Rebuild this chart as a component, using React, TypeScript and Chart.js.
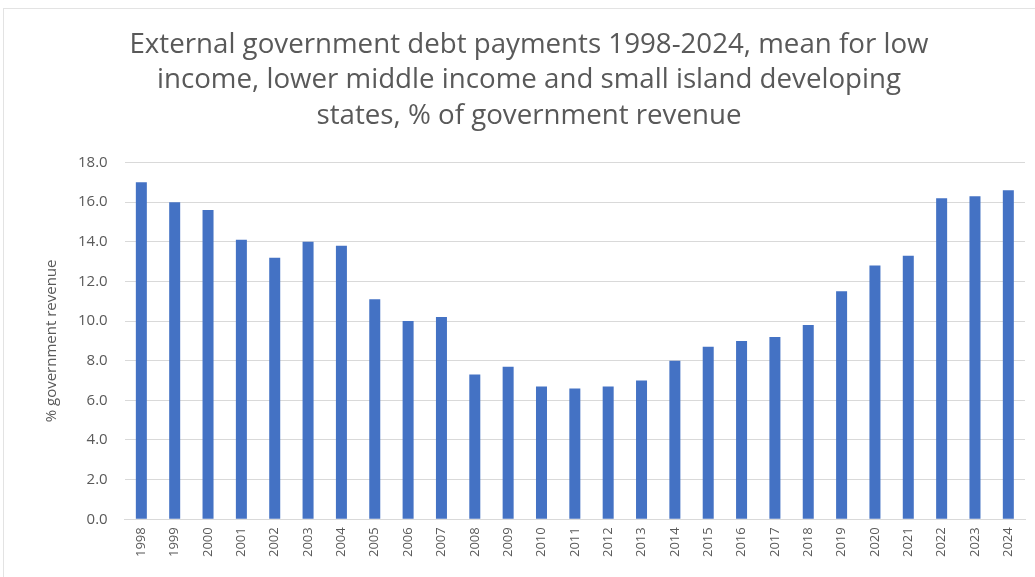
import React, { useEffect, useRef } from "react";
import { Chart, registerables } from "chart.js";

Chart.register(...registerables);

const years: string[] = [
  "1998", "1999", "2000", "2001", "2002", "2003", "2004", "2005", "2006",
  "2007", "2008", "2009", "2010", "2011", "2012", "2013", "2014", "2015",
  "2016", "2017", "2018", "2019", "2020", "2021", "2022", "2023", "2024",
];

const debtPayments: number[] = [
  17.0, 16.0, 15.6, 14.1, 13.2, 14.0, 13.8, 11.1, 10.0,
  10.2, 7.3, 7.7, 6.7, 6.6, 6.7, 7.0, 8.0, 8.7,
  9.0, 9.2, 9.8, 11.5, 12.8, 13.3, 16.2, 16.3, 16.6,
];

const titleLines: string[] = [
  "External government debt payments 1998-2024, mean for low",
  "income, lower middle income and small island developing",
  "states, % of government revenue",
];

const yAxisTitle = "% government revenue";

const FONT = "'Open Sans', sans-serif";
const TEXT = "#595959";
const GRID = "#d9d9d9";
const BAR = "#4472c4";

export default function App() {
  const ref = useRef<HTMLCanvasElement | null>(null);

  useEffect(() => {
    if (!ref.current) return;
    const chart = new Chart(ref.current, {
      type: "bar",
      data: {
        labels: years,
        datasets: [
          {
            label: "Debt payments",
            data: debtPayments,
            backgroundColor: BAR,
            borderWidth: 0,
            barPercentage: 0.33,
            categoryPercentage: 1.0,
          },
        ],
      },
      options: {
        animation: false,
        responsive: true,
        maintainAspectRatio: false,
        layout: { padding: { left: 33, right: 10, top: 0, bottom: 12 } },
        plugins: {
          legend: { display: false },
          tooltip: { enabled: false },
          title: {
            display: true,
            text: titleLines,
            color: TEXT,
            font: { family: FONT, size: 27.7, weight: "normal", lineHeight: "35.5px" },
            padding: { top: 27, bottom: 29 },
          },
        },
        scales: {
          x: {
            grid: { display: false, drawTicks: false },
            border: { display: true, color: GRID, width: 1 },
            ticks: {
              color: TEXT,
              font: { family: FONT, size: 13 },
              minRotation: 90,
              maxRotation: 90,
              padding: 8,
              autoSkip: false,
            },
          },
          y: {
            min: 0,
            max: 18,
            grid: { color: GRID, lineWidth: 1, drawTicks: false },
            border: { display: false },
            ticks: {
              stepSize: 2,
              color: TEXT,
              font: { family: FONT, size: 15 },
              padding: 17,
              callback: (v: any) => Number(v).toFixed(1),
            },
            title: {
              display: true,
              text: yAxisTitle,
              color: TEXT,
              font: { family: FONT, size: 15 },
              padding: { top: 10, bottom: 0 },
            },
          },
        },
      },
    });
    return () => chart.destroy();
  }, []);

  return (
    <div
      style={{
        position: "absolute",
        left: 0,
        top: 0,
        width: 1035,
        height: 577,
        background: "#fff",
      }}
    >
      <div
        style={{
          position: "absolute",
          left: 3,
          top: 8,
          width: 1040,
          height: 580,
          borderLeft: "1px solid #e3e3e3",
          borderTop: "1px solid #e3e3e3",
        }}
      />
      <div style={{ position: "absolute", left: 0, top: 0, width: 1035, height: 577 }}>
        <canvas ref={ref} />
      </div>
    </div>
  );
}
